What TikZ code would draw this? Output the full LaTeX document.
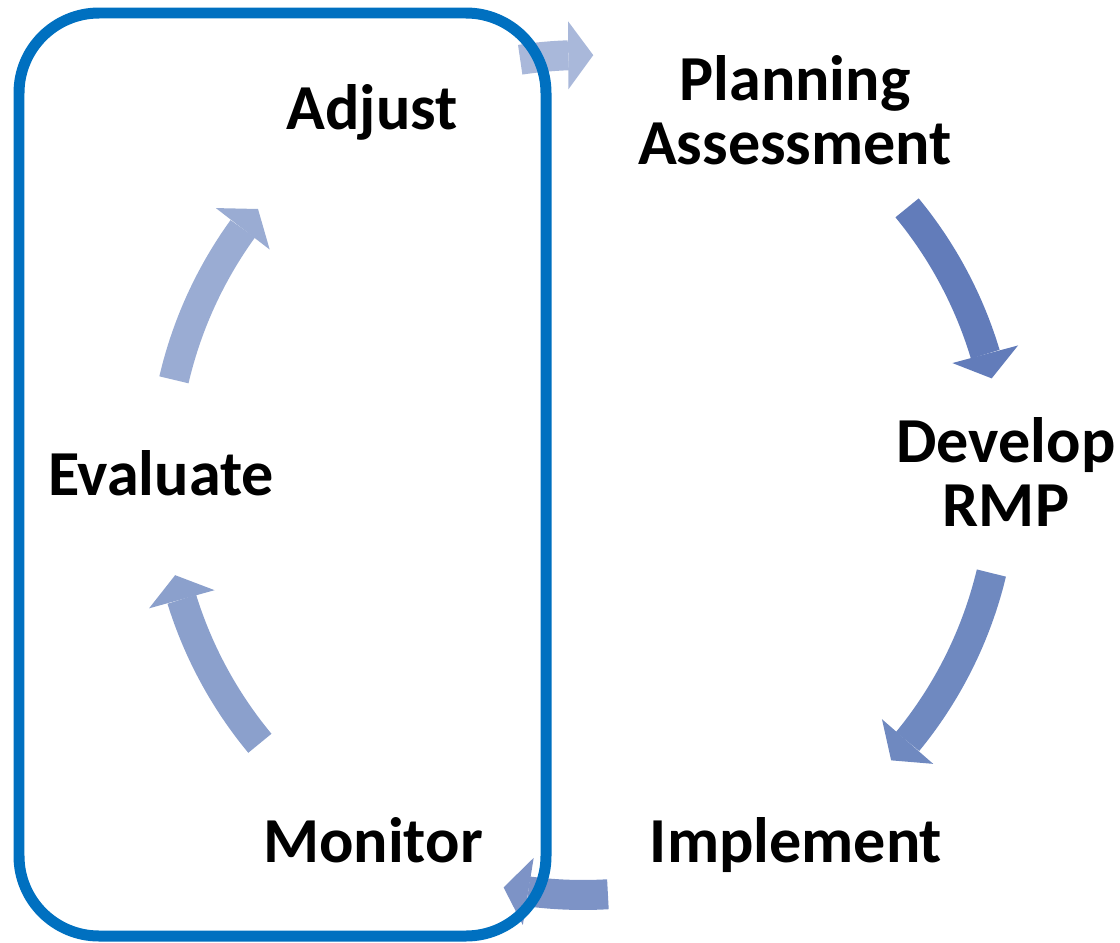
\documentclass[tikz,border=0pt]{standalone}
\usepackage{fontspec}
\setmainfont{Carlito}
\usetikzlibrary{arrows.meta,bending,calc,positioning}
\definecolor{boxblue}{RGB}{0,112,192}
\definecolor{cyca}{RGB}{98,124,186}
\definecolor{cycb}{RGB}{111,137,192}
\definecolor{cycc}{RGB}{125,147,198}
\definecolor{cycd}{RGB}{139,160,204}
\definecolor{cyce}{RGB}{154,172,211}
\definecolor{cycf}{RGB}{169,184,218}

\begin{document}
\begin{tikzpicture}[x=0.02cm,y=-0.02cm, lbl/.style={font=\bfseries\fontsize{36.5}{36}\selectfont,align=center,inner sep=0pt,anchor=base},cyc/.style={line width=0.6cm,-{Triangle[width=1.36cm,length=0.5cm,line width=0pt]}}]
                      \useasboundingbox (0,0) rectangle (1120,943);
                      \coordinate (c) at (583,475);

                      \node[lbl] (plan) at (795,164) {Planning\\Assessment};
                      \node[lbl] (dev) at (1006,526) {Develop\\RMP};
                      \node[lbl] (impl) at (796,862) {Implement};
                      \node[lbl] (mon) at (373,862) {Monitor};
                      \node[lbl] (eval) at (161,495) {Evaluate};
                      \node[lbl] (adj) at (372,129) {Adjust};

                      \draw[cyc,cyca] (c) ++(-39.5:420) arc[start angle=-39.5,end angle=-13.3,radius=420];
                      \draw[cyc,cycb] (c) ++(13.5:420) arc[start angle=13.5,end angle=42.8,radius=420];
                      \draw[cyc,cycc] (c) ++(86.6:420) arc[start angle=86.6,end angle=100.9,radius=420];
                      \draw[cyc,cycd] (c) ++(140.3:420) arc[start angle=140.3,end angle=166.2,radius=420];
                      \draw[cyc,cyce] (c) ++(193.1:420) arc[start angle=193.1,end angle=219.3,radius=420];
                      \draw[cyc,cycf] (c) ++(261.4:420) arc[start angle=261.4,end angle=271.4,radius=420];

                      \draw[boxblue,line width=0.22cm,rounded corners=1.6cm] (19,13) rectangle (546,936);
                    \end{tikzpicture}
\end{document}
